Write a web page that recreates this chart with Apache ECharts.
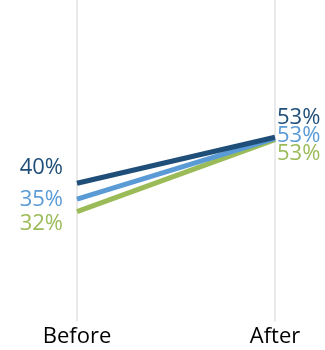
<!DOCTYPE html>
<html>
<head>
<meta charset="utf-8">
<script src="https://cdn.jsdelivr.net/npm/echarts@6/dist/echarts.min.js"></script>
<style>html,body{margin:0;padding:0;background:#fff;}#c{width:325px;height:350px;}</style>
</head>
<body>
<div id="c"></div>
<script>
var categories = ['Before', 'After'];
var seriesNames = ['A', 'B', 'C'];
var valuesA = [0.40, 0.533];
var valuesB = [0.354, 0.53];
var valuesC = [0.318, 0.526];

var colors = ['#1F4E79', '#5B9BD5', '#9BBB59'];
var leftOffsets = [-15, 1, 12];
var rightOffsets = [-20, -3, 14];
var FONT = 'Open Sans';

function build(vals, i) {
  return vals.map(function (v, j) {
    return {
      value: v,
      label: {
        show: true,
        position: j === 0 ? 'left' : 'right',
        distance: j === 0 ? 14 : 2,
        offset: [0, j === 0 ? leftOffsets[i] : rightOffsets[i]],
        color: colors[i],
        fontSize: 22,
        fontFamily: FONT,
        formatter: function (p) { return Math.round(p.value * 100) + '%'; }
      }
    };
  });
}

var allVals = [valuesA, valuesB, valuesC];
var chart = echarts.init(document.getElementById('c'), null, {renderer: 'canvas'});
chart.setOption({
  animation: false,
  grid: {left: 77, right: 50, top: 0, bottom: 28.5},
  xAxis: {
    type: 'category',
    data: categories,
    boundaryGap: false,
    axisLine: {show: false},
    axisTick: {show: false},
    axisLabel: {color: '#000', fontSize: 22, fontFamily: FONT, margin: 4},
    splitLine: {show: true, lineStyle: {color: '#e3e3e3', width: 1.5}}
  },
  yAxis: {
    type: 'value', min: 0, max: 0.93, show: false, splitLine: {show: false}
  },
  series: allVals.map(function (vals, i) {
    return {
      name: seriesNames[i],
      type: 'line',
      data: build(vals, i),
      symbol: 'circle',
      symbolSize: 0,
      showSymbol: true,
      itemStyle: {color: colors[i]},
      lineStyle: {color: colors[i], width: 5},
      z: 10 - i
    };
  })
});
</script>
</body>
</html>
